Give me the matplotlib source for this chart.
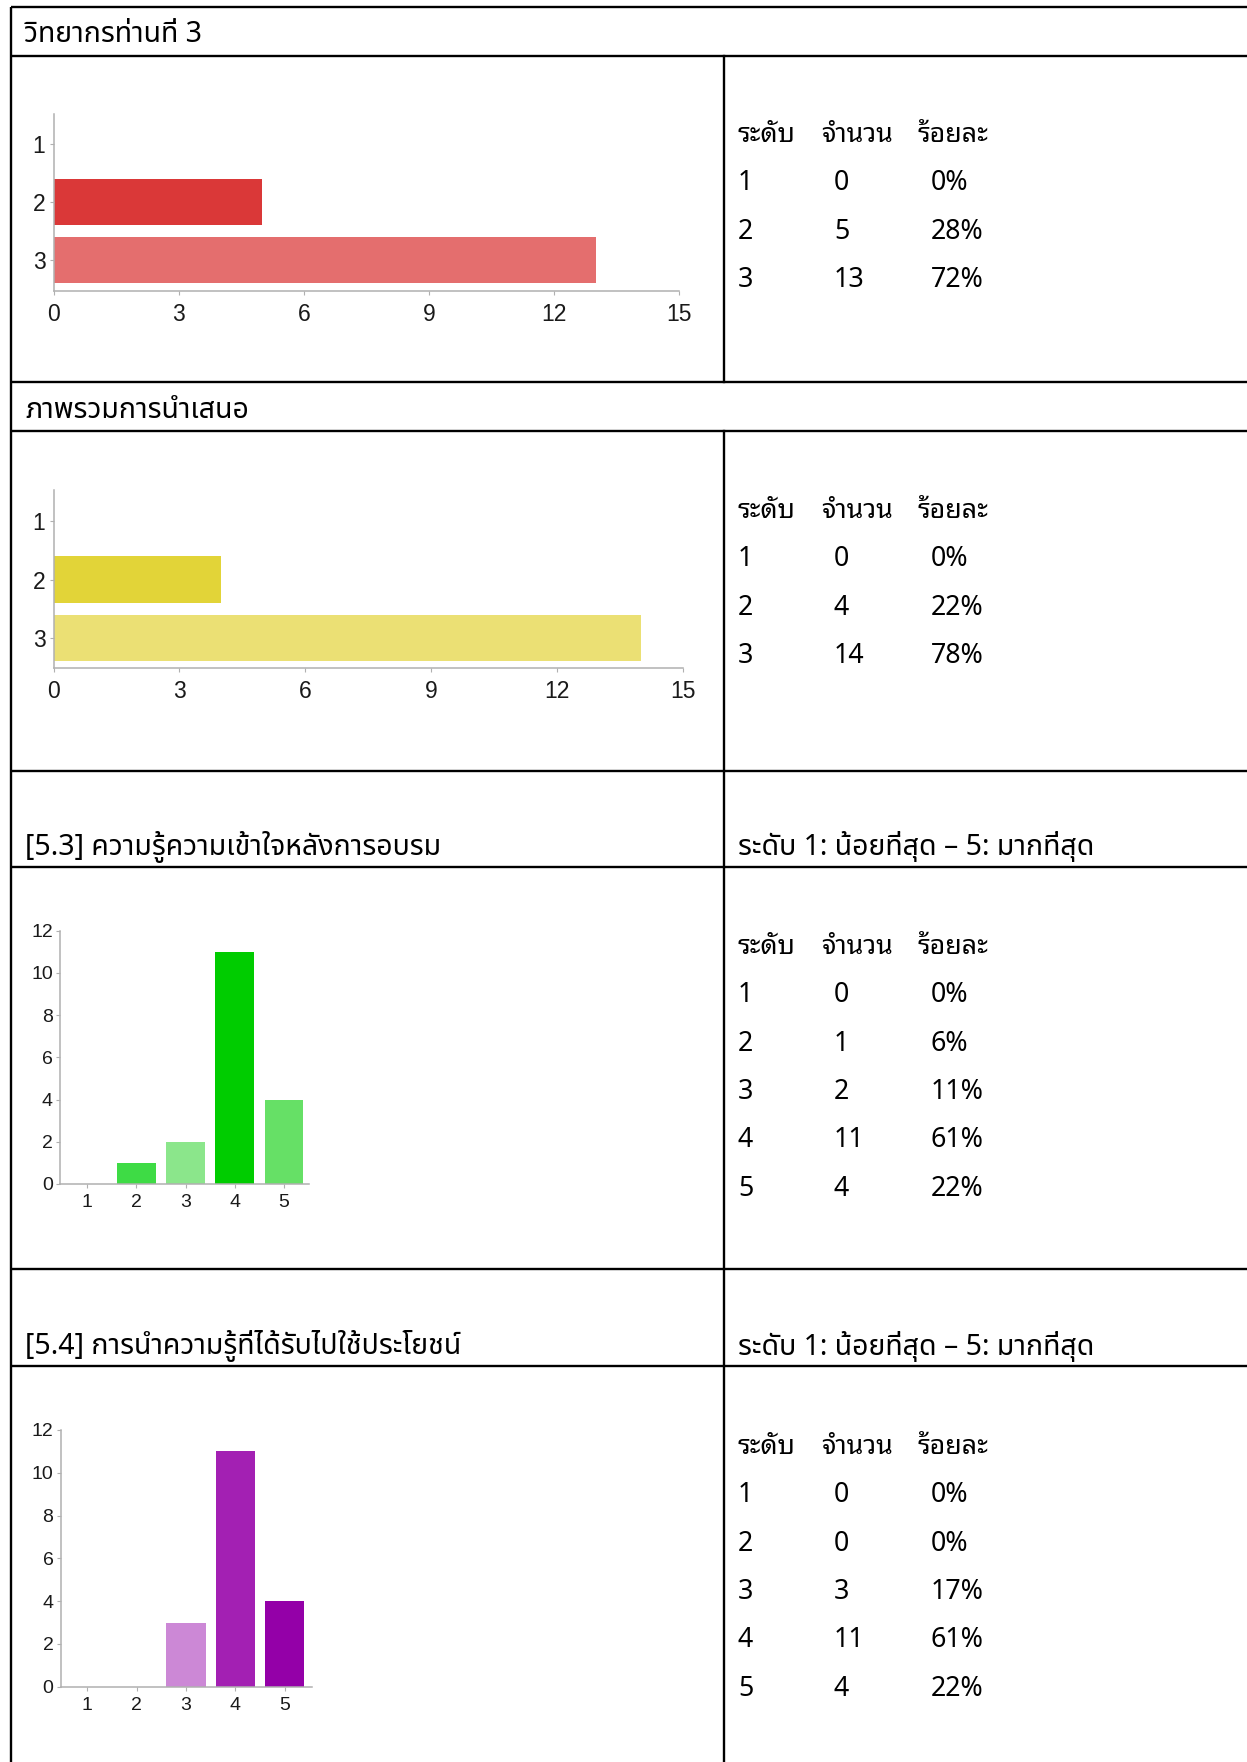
import matplotlib
matplotlib.use('Agg')
import matplotlib.pyplot as plt
from matplotlib import font_manager as fm
from matplotlib.ft2font import FT2Font

# ---------------- data ----------------
title_speaker3 = 'วิทยากรท่านที่ 3'
title_overall = 'ภาพรวมการนำเสนอ'
title_53 = '[5.3] ความรู้ความเข้าใจหลังการอบรม'
title_54 = '[5.4] การนำความรู้ที่ได้รับไปใช้ประโยชน์'
scale_note = 'ระดับ 1: น้อยที่สุด – 5: มากที่สุด'
table_headers = ['ระดับ', 'จำนวน', 'ร้อยละ']

levels3 = ['1', '2', '3']
counts_speaker3 = [0, 5, 13]
pct_speaker3 = ['0%', '28%', '72%']
colors_speaker3 = ['#DA3838', '#DA3838', '#E46E6E']

counts_overall = [0, 4, 14]
pct_overall = ['0%', '22%', '78%']
colors_overall = ['#E2D438', '#E2D438', '#EBE074']

hticks = [0, 3, 6, 9, 12, 15]

levels5 = ['1', '2', '3', '4', '5']
counts_53 = [0, 1, 2, 11, 4]
pct_53 = ['0%', '6%', '11%', '61%', '22%']
colors_53 = ['#3EDB45', '#3EDB45', '#8BE68B', '#00CC00', '#66E066']

counts_54 = [0, 0, 3, 11, 4]
pct_54 = ['0%', '0%', '17%', '61%', '22%']
colors_54 = ['#CC88D6', '#CC88D6', '#CC88D6', '#A320B3', '#9400A8']

vticks = [0, 2, 4, 6, 8, 10, 12]

# ---------------- fonts ----------------
def thai_capable():
    out = []
    seen = set()
    for f in fm.fontManager.ttflist:
        if f.name in seen:
            continue
        try:
            cmap = FT2Font(f.fname).get_charmap()
            if 0x0E01 in cmap and 0x0E2D in cmap and 0x0E48 in cmap:
                out.append(f.name)
                seen.add(f.name)
        except Exception:
            pass
    return out

avail = thai_capable()

def pick(prefs):
    for p in prefs:
        if p in avail:
            return p
    return avail[0] if avail else 'DejaVu Sans'

title_font = pick(['Noto Sans Thai', 'Noto Sans Thai UI', 'Leelawadee UI', 'Loma',
                   'Garuda', 'Umpush', 'Laksaman', 'Sawasdee', 'Noto Sans'])
table_font = pick(['Noto Sans Thai Looped', 'Noto Serif Thai', 'Tahoma', 'Loma',
                   'Garuda', 'Noto Sans Thai', 'Noto Sans'])
TF = [title_font, 'DejaVu Sans']
TB = [table_font, 'DejaVu Sans']
NUMF = ['Liberation Sans', 'DejaVu Sans']

# ---------------- figure ----------------
W, H = 1247, 1762
fig = plt.figure(figsize=(W / 100, H / 100), dpi=100)
fig.patch.set_facecolor('white')

bg = fig.add_axes([0, 0, 1, 1], zorder=0)
bg.set_xlim(0, W)
bg.set_ylim(H, 0)
bg.axis('off')

lw = 1.7
hlines_full = [6.7, 55.5, 382, 430.5, 771]
hlines_split = [867, 1269, 1366]
for y in hlines_full + hlines_split:
    bg.plot([11, W], [y, y], color='black', lw=lw, solid_capstyle='butt')
bg.plot([11, 11], [6.7, H], color='black', lw=lw, solid_capstyle='butt')
bg.plot([723.5, 723.5], [55.5, 382], color='black', lw=lw)
bg.plot([723.5, 723.5], [430.5, H], color='black', lw=lw)

tsize = 20.5
bg.text(25, 34, title_speaker3, family=TF, fontsize=tsize, va='center', ha='left')
bg.text(25, 411, title_overall, family=TF, fontsize=tsize, va='center', ha='left')
bg.text(25, 847, title_53, family=TF, fontsize=tsize, va='center', ha='left')
bg.text(738, 847, scale_note, family=TF, fontsize=tsize, va='center', ha='left')
bg.text(25, 1346, title_54, family=TF, fontsize=tsize, va='center', ha='left')
bg.text(738, 1346, scale_note, family=TF, fontsize=tsize, va='center', ha='left')

# ---------------- tables ----------------
hdr_x = [738, 821, 917]
col_x = [738, 834, 931]
rsize = 19.3

def table(y0, levels, counts, pcts):
    for hx, h in zip(hdr_x, table_headers):
        bg.text(hx, y0, h, family=TB, fontsize=rsize, va='center', ha='left')
    for i, (lv, c, p) in enumerate(zip(levels, counts, pcts)):
        y = y0 + 48.3 * (i + 1)
        bg.text(col_x[0], y, lv, family=TB, fontsize=rsize, va='center', ha='left')
        bg.text(col_x[1], y, str(c), family=TB, fontsize=rsize, va='center', ha='left')
        bg.text(col_x[2], y, p, family=TB, fontsize=rsize, va='center', ha='left')

table(135, levels3, counts_speaker3, pct_speaker3)
table(511, levels3, counts_overall, pct_overall)
table(947, levels5, counts_53, pct_53)
table(1447, levels5, counts_54, pct_54)

# ---------------- charts ----------------
AX_COL = '#b0b0b0'

def add_ax(l, r, t, b):
    return fig.add_axes([l / W, 1 - b / H, (r - l) / W, (b - t) / H], zorder=2)

def style(ax, size, xpad, ypad):
    for s in ['top', 'right']:
        ax.spines[s].set_visible(False)
    for s in ['left', 'bottom']:
        ax.spines[s].set_color(AX_COL)
        ax.spines[s].set_linewidth(1.1)
    ax.set_facecolor('none')
    ax.tick_params(axis='both', direction='out', length=3, width=0.8,
                   color=AX_COL, labelsize=size, labelcolor='#1a1a1a')
    ax.tick_params(axis='x', pad=xpad)
    ax.tick_params(axis='y', pad=ypad)
    for lab in ax.get_xticklabels() + ax.get_yticklabels():
        lab.set_family(NUMF)

def hchart(l, r, t, b, counts, colors, ylims):
    ax = add_ax(l, r, t, b)
    ax.barh(levels3, counts, height=0.79, color=colors, linewidth=0)
    ax.set_xlim(0, 15)
    ax.set_ylim(*ylims)
    ax.set_xticks(hticks)
    ax.set_xticklabels([str(v) for v in hticks])
    style(ax, 16.5, 6.0, 3)
    return ax

hchart(53.7, 679.5, 114, 290.7, counts_speaker3, colors_speaker3, (2.53, -0.52))
hchart(53.7, 682.7, 490, 668, counts_overall, colors_overall, (2.51, -0.53))

def vchart(l, r, t, b, counts, colors, xlims, width):
    ax = add_ax(l, r, t, b)
    ax.bar(levels5, counts, width=width, color=colors, linewidth=0)
    ax.set_xlim(*xlims)
    ax.set_ylim(0, 12)
    ax.set_yticks(vticks)
    ax.set_yticklabels([str(v) for v in vticks])
    style(ax, 14, 4.5, 2.2)
    return ax

vchart(60, 309, 930.7, 1184, counts_53, colors_53, (-0.557, 4.516), 0.78)
vchart(60.7, 311.7, 1430, 1686.7, counts_54, colors_54, (-0.54, 4.55), 0.80)

fig.savefig('out.png', dpi=100, facecolor='white')
